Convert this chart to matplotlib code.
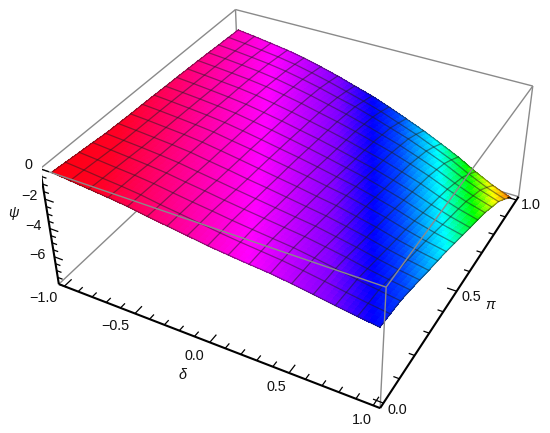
import numpy as np, matplotlib
matplotlib.use('Agg')
import matplotlib.pyplot as plt
from matplotlib.colors import hsv_to_rgb

plt.rcParams['font.family'] = ['Liberation Sans', 'DejaVu Sans']

delta = np.linspace(-1, 1, 17)
pi_vals = np.linspace(0, 1, 17)
# psi: rows follow pi, columns follow delta
psi = np.array([
[-0.35,-0.48,-0.61,-0.74,-0.89,-1.10,-1.28,-1.46,-1.65,-1.79,-1.92,-2.03,-2.21,-2.41,-2.63,-2.82,-3.00],
[-0.44,-0.55,-0.68,-0.79,-0.93,-1.14,-1.31,-1.49,-1.67,-1.82,-1.95,-2.08,-2.27,-2.48,-2.71,-2.92,-3.10],
[-0.53,-0.63,-0.74,-0.84,-0.98,-1.17,-1.35,-1.51,-1.69,-1.84,-1.98,-2.12,-2.33,-2.55,-2.79,-3.00,-3.20],
[-0.61,-0.71,-0.81,-0.92,-1.05,-1.24,-1.41,-1.60,-1.77,-1.93,-2.09,-2.25,-2.47,-2.70,-2.98,-3.21,-3.42],
[-0.71,-0.80,-0.89,-1.00,-1.13,-1.32,-1.50,-1.69,-1.87,-2.05,-2.23,-2.40,-2.65,-2.90,-3.20,-3.46,-3.67],
[-0.75,-0.84,-0.94,-1.04,-1.17,-1.37,-1.55,-1.76,-1.94,-2.14,-2.34,-2.54,-2.80,-3.08,-3.41,-3.69,-3.93],
[-0.79,-0.87,-0.97,-1.07,-1.21,-1.40,-1.60,-1.81,-2.02,-2.22,-2.45,-2.66,-2.95,-3.25,-3.61,-3.91,-4.16],
[-0.82,-0.90,-1.00,-1.11,-1.24,-1.45,-1.64,-1.87,-2.08,-2.30,-2.55,-2.78,-3.09,-3.42,-3.80,-4.14,-4.41],
[-0.85,-0.94,-1.04,-1.15,-1.29,-1.49,-1.71,-1.94,-2.16,-2.41,-2.68,-2.94,-3.27,-3.62,-4.04,-4.40,-4.70],
[-0.89,-0.98,-1.08,-1.20,-1.34,-1.55,-1.77,-2.01,-2.26,-2.53,-2.82,-3.10,-3.46,-3.84,-4.29,-4.68,-4.99],
[-0.92,-1.02,-1.13,-1.25,-1.40,-1.61,-1.84,-2.10,-2.35,-2.64,-2.95,-3.26,-3.64,-4.05,-4.53,-4.95,-5.29],
[-0.96,-1.06,-1.17,-1.28,-1.44,-1.66,-1.90,-2.17,-2.44,-2.74,-3.08,-3.41,-3.82,-4.25,-4.76,-5.20,-5.56],
[-1.00,-1.10,-1.21,-1.33,-1.49,-1.72,-1.97,-2.26,-2.54,-2.86,-3.22,-3.58,-4.01,-4.47,-5.01,-5.48,-5.86],
[-1.05,-1.15,-1.27,-1.40,-1.58,-1.82,-2.08,-2.38,-2.69,-3.04,-3.43,-3.82,-4.28,-4.77,-5.35,-5.86,-6.26],
[-1.10,-1.21,-1.34,-1.48,-1.67,-1.92,-2.20,-2.53,-2.84,-3.22,-3.64,-4.06,-4.56,-5.08,-5.70,-6.23,-6.66],
[-1.15,-1.28,-1.44,-1.60,-1.81,-2.09,-2.40,-2.75,-3.11,-3.51,-3.98,-4.44,-4.99,-5.55,-6.22,-6.81,-7.27],
[-1.20,-1.36,-1.54,-1.73,-1.97,-2.28,-2.62,-3.01,-3.39,-3.85,-4.36,-4.88,-5.47,-6.08,-6.80,-7.44,-7.95],
])
# colour rule: hue bands across the sheet
hue_pos = [0.0, 0.15, 0.30, 0.62, 0.85, 0.97, 1.06, 1.20, 1.31, 1.39, 1.46]
hue_val = [0.99, 0.975, 0.93, 0.83, 0.75, 0.667, 0.62, 0.50, 0.33, 0.17, 0.08]

delta_ticks = [-1.0, -0.5, 0.0, 0.5, 1.0]
pi_ticks = [0.0, 0.5, 1.0]
psi_ticks = [0, -2, -4, -6]

XL, XH, YL, YH, ZL, ZH = -1.04, 1.04, -0.02, 1.02, -8, 0

fig = plt.figure(figsize=(5.5, 4.33), dpi=100)
ax = fig.add_axes([42.3/550, -7.3/433, 499.4/550, 499.4/433], projection='3d')
ax.computed_zorder = False
ax.set_xlim(XL, XH); ax.set_ylim(YL, YH); ax.set_zlim(ZL, ZH)
ax.set_proj_type('persp', focal_length=0.44443)
ax.view_init(elev=36.174, azim=-61.358, roll=0.3724)
ax.set_box_aspect((1.0016, 1, 0.39988))
ax.set_axis_off()
ax.patch.set_alpha(0)

# fine paint grid within each table cell, for the smooth colour gradient
n = 4
ix = np.linspace(0, 16, 16*n+1)
i0 = np.minimum(ix.astype(int), 15); f = ix - i0
Pz = ((1-f)[:, None]*(1-f)[None, :]*psi[i0][:, i0] + (1-f)[:, None]*f[None, :]*psi[i0][:, i0+1]
      + f[:, None]*(1-f)[None, :]*psi[i0+1][:, i0] + f[:, None]*f[None, :]*psi[i0+1][:, i0+1])
dg = np.interp(ix, np.arange(17), delta); pg = np.interp(ix, np.arange(17), pi_vals)
DG, PG = np.meshgrid(dg, pg)
hue = np.interp((DG+1)/2 + 0.48*PG, hue_pos, hue_val)
rgb = hsv_to_rgb(np.dstack([hue, np.ones_like(hue), np.ones_like(hue)]))

GREY = '#8a8a8a'
def edge(a, b, z, color=GREY, lw=1.0):
    ax.plot([a[0], b[0]], [a[1], b[1]], [a[2], b[2]], color=color, lw=lw, zorder=z, solid_capstyle='butt')

# edges behind the sheet
edge((XL, YL, ZH), (XL, YH, ZH), 1)
edge((XL, YH, ZH), (XH, YH, ZH), 1)
edge((XL, YH, ZH), (XL, YH, ZL), 1)
edge((XH, YH, ZH), (XH, YH, ZL), 1)
edge((XL, YL, ZL), (XL, YH, ZL), 1)
edge((XL, YH, ZL), (XH, YH, ZL), 1)

ax.plot_surface(DG, PG, Pz, facecolors=rgb, rstride=1, cstride=1, shade=False,
                linewidth=0, antialiased=False, zorder=2)

for j in range(17):
    ax.plot(delta, np.full(17, pi_vals[j]), psi[j], color='#202020', lw=0.9, alpha=0.5, zorder=3)
    ax.plot(np.full(17, delta[j]), pi_vals, psi[:, j], color='#202020', lw=0.9, alpha=0.5, zorder=3)

# edges in front of the sheet
edge((XL, YL, ZH), (XH, YL, ZH), 4)
edge((XH, YL, ZH), (XH, YH, ZH), 4)
edge((XH, YL, ZH), (XH, YL, ZL), 4)

# black axes with ticks
edge((XL, YL, ZH), (XL, YL, ZL), 5, 'black', 1.5)
edge((XL, YL, ZL), (XH, YL, ZL), 5, 'black', 1.5)
edge((XH, YL, ZL), (XH, YH, ZL), 5, 'black', 1.5)
for v in np.arange(0, 21)/10 - 1:
    L = 0.035 if round(v*10) % 5 == 0 else 0.022
    edge((v, YL, ZL), (v, YL+L, ZL), 5, 'black', 0.9)
for v in np.arange(0, 11)/10:
    L = 0.06 if round(v*10) % 5 == 0 else 0.035
    edge((XH, v, ZL), (XH-L, v, ZL), 5, 'black', 0.9)
for v in np.arange(0, 17)/2 - 8:
    L = 0.06 if round(v*2) % 4 == 0 else 0.035
    edge((XL, YL, v), (XL+L, YL, v), 5, 'black', 0.9)

def label(x, y, s, **kw):
    fig.text(x/550, 1-y/433, s, ha='center', va='center', fontsize=10.4, color='#111111', **kw)

for t, (x, y) in zip(psi_ticks, [(28, 165), (29, 196), (33, 226), (37, 255)]):
    label(x, y, str(t).replace('-', '\u2212'))
for t, (x, y) in zip(delta_ticks, [(43, 298), (115, 326), (194, 356), (276, 387), (362, 420)]):
    label(x, y, f'{t:.1f}'.replace('-', '\u2212'))
for t, (x, y) in zip(pi_ticks, [(397, 410), (471, 297), (531, 205)]):
    label(x, y, f'{t:.1f}')
label(13, 213, '\u03c8', style='italic')
label(183, 375, '\u03b4', style='italic')
label(490, 305, '\u03c0', style='italic')

fig.savefig('out.png', dpi=100)
